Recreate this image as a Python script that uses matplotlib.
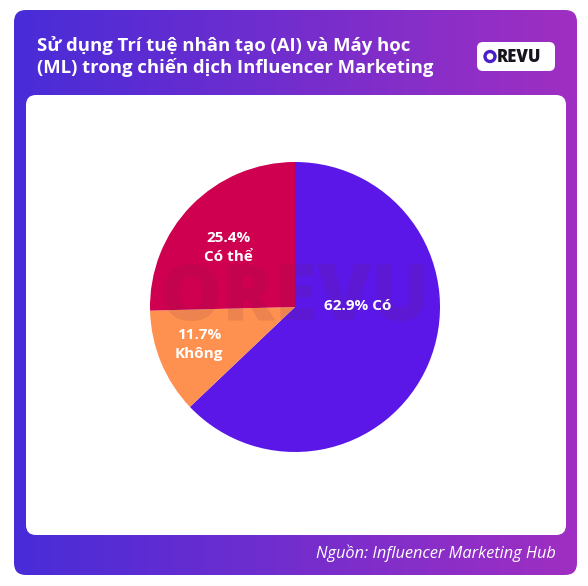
import numpy as np
import matplotlib
matplotlib.use("Agg")
import matplotlib.pyplot as plt
from matplotlib.patches import FancyBboxPatch, Circle

# data
labels = ["Có", "Không", "Có thể"]
values = [62.9, 11.7, 25.4]
colors = ["#5a17e8", "#fe9150", "#cf0050"]
label_text = ["62.9% Có", "11.7%\nKhông", "25.4%\nCó thể"]
label_pos = [(0.43, 0.01), (-0.66, -0.26), (-0.46, 0.41)]

title = "Sử dụng Trí tuệ nhân tạo (AI) và Máy học\n(ML) trong chiến dịch Influencer Marketing"
source = "Nguồn: Influencer Marketing Hub"

FONT = "Open Sans"
W, H = 588, 586
fig = plt.figure(figsize=(W / 100, H / 100), dpi=100)
fig.patch.set_facecolor("white")

# background layer in pixel coordinates
bg = fig.add_axes([0, 0, 1, 1])
bg.set_xlim(0, W)
bg.set_ylim(H, 0)
bg.axis("off")

# gradient card
c1 = np.array([0x48, 0x2c, 0xd8]) / 255
c2 = np.array([0xa0, 0x2f, 0xc2]) / 255
t = np.linspace(0, 1, 256)
grad = (c1[None, :] * (1 - t[:, None]) + c2[None, :] * t[:, None])[None, :, :]
grad = np.repeat(grad, 2, axis=0)
card = FancyBboxPatch((14, 10), 563, 565, boxstyle="round,pad=0,rounding_size=12",
                      facecolor="none", edgecolor="none")
bg.add_patch(card)
im = bg.imshow(grad, extent=(14, 577, 575, 10), aspect="auto", zorder=1)
im.set_clip_path(card)

# white panel
panel = FancyBboxPatch((26, 95), 540, 440, boxstyle="round,pad=0,rounding_size=10",
                       facecolor="white", edgecolor="none", zorder=2)
bg.add_patch(panel)

# title
bg.text(37, 57, title, color="white", fontsize=13.3, fontweight="bold",
        family=FONT, va="center", ha="left", linespacing=1.2, zorder=3)

# logo
logo = FancyBboxPatch((477, 42), 78, 29, boxstyle="round,pad=0,rounding_size=6",
                      facecolor="white", edgecolor="none", zorder=3)
bg.add_patch(logo)
bg.add_patch(Circle((490, 56.5), 5.0, facecolor="none", edgecolor="#4a1fc8", lw=2.4, zorder=4))
bg.text(497, 57, "REVU", color="#15151f", fontsize=12, fontweight="heavy",
        family=FONT, va="center", ha="left", zorder=4)

# source
bg.text(556, 553, source, color="white", fontsize=11.8, style="italic",
        family=FONT, va="center", ha="right", zorder=3)

# pie
cx, cy, r = 295, 307, 145
ax = fig.add_axes([(cx - r) / W, 1 - (cy + r) / H, 2 * r / W, 2 * r / H])
ax.pie(values, colors=colors, startangle=90, counterclock=False,
       wedgeprops=dict(linewidth=0))
ax.set_xlim(-1, 1)
ax.set_ylim(-1, 1)
ax.set_aspect("equal")
ax.axis("off")

for txt, (x, y) in zip(label_text, label_pos):
    ax.text(x, y, txt, color="white", fontsize=11, fontweight="bold",
            family=FONT, ha="center", va="center", linespacing=1.5, zorder=5)

# watermark
ax.text(0.0, 0.05, "OREVU", color="#7a2040", alpha=0.12, fontsize=56,
        fontweight="heavy", family=FONT, ha="center", va="center", zorder=4)

fig.savefig("out.png", dpi=100)
